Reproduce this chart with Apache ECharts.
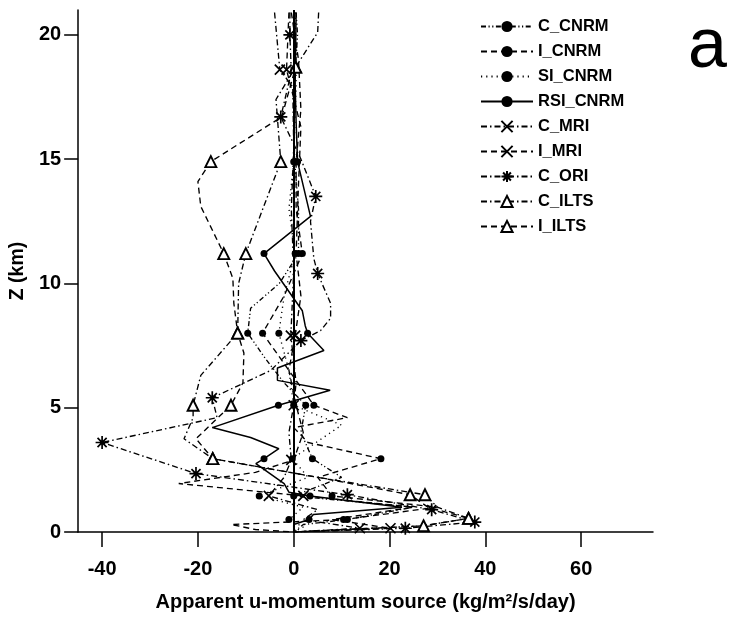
<!DOCTYPE html>
<html>
<head>
<meta charset="utf-8">
<script src="https://cdn.jsdelivr.net/npm/echarts@6/dist/echarts.min.js"></script>
<style>
  html, body { margin: 0; padding: 0; background: #fff; }
  #chart { width: 730px; height: 617px; }
</style>
</head>
<body>
<div id="chart"></div>
<script>
// Vertical profiles of the apparent u-momentum source (kg/m2/s/day) against height Z (km)

// ---- C_CNRM ----
const zC_CNRM = [20.9, 20.0, 18.5, 17.0, 14.9, 13.0, 11.2, 10.0, 9.0, 8.0, 7.0, 6.0, 5.1, 4.0, 2.95, 2.2, 1.45, 1.0, 0.5, 0.3, 0];
const uC_CNRM = [0.5, 0.8, 0.3, 0.0, 0.2, 1.0, 1.0, -3.0, -9.0, -9.6, -6.0, -2.0, 2.5, 1.5, 3.9, 10.0, 0.0, 25.0, 11.2, 2.0, 0];
const mC_CNRM = [14.9, 11.2, 8.0, 5.1, 2.95, 1.45, 0.5];

// ---- I_CNRM ----
const zI_CNRM = [20.9, 19.0, 17.0, 14.9, 13.0, 11.2, 9.5, 8.0, 6.5, 5.1, 4.6, 4.2, 3.6, 2.95, 2.2, 1.45, 1.0, 0.5, 0.3, 0.1, 0];
const uI_CNRM = [-0.5, 1.0, 1.5, 0.5, 0.5, 1.8, -2.0, -6.5, -1.0, 4.2, 11.2, 0.0, 3.0, 18.2, 5.0, 8.0, 30.0, 10.4, -13.0, -8.0, 0];
const mI_CNRM = [14.9, 11.2, 8.0, 5.1, 2.95, 1.45, 0.5];

// ---- SI_CNRM ----
const zSI_CNRM = [20.9, 18.0, 14.9, 13.0, 11.2, 9.5, 8.0, 6.5, 5.1, 4.3, 2.95, 2.2, 1.45, 1.0, 0.5, 0.2, 0];
const uSI_CNRM = [0.3, 0.5, 0.0, -1.0, 0.3, -2.0, -3.1, -1.0, 0.0, 10.0, -0.3, 3.0, -7.2, 2.0, -1.0, 2.0, 0];
const mSI_CNRM = [14.9, 11.2, 8.0, 5.1, 2.95, 1.45, 0.5];

// ---- RSI_CNRM ----
const zRSI_CNRM = [20.9, 18.0, 16.5, 14.9, 12.7, 11.2, 10.5, 8.9, 8.3, 8.0, 7.3, 6.6, 6.1, 5.7, 5.1, 4.2, 3.8, 3.35, 2.95, 2.75, 1.95, 1.6, 1.45, 1.0, 0.7, 0.5, 0.3, 0];
const uRSI_CNRM = [0.5, 0.3, 0.5, 0.8, 3.5, -6.2, -4.0, 1.8, 2.4, 2.9, 6.3, -3.4, -3.4, 7.6, -3.2, -17.0, -9.0, -3.1, -6.2, -7.9, -2.0, -1.0, 3.4, 22.6, 4.1, 3.2, 0.0, 0];
const mRSI_CNRM = [14.9, 11.2, 8.0, 5.1, 2.95, 1.45, 0.5];

// ---- C_MRI ----
const zC_MRI = [20.9, 18.6, 17.9, 15.5, 13.0, 10.5, 7.9, 6.0, 5.1, 4.0, 2.9, 2.2, 1.45, 0.9, 0.5, 0.15, 0];
const uC_MRI = [-4.0, -2.9, -0.2, 0.0, -0.5, 0.0, -0.6, 0.5, 0.0, -1.0, -0.5, -2.0, -5.2, 5.0, 2.0, 13.8, 0];
const mC_MRI = [18.6, 7.9, 5.1, 2.9, 1.45, 0.15];

// ---- I_MRI ----
const zI_MRI = [20.9, 18.6, 16.3, 14.0, 11.2, 9.5, 7.9, 6.5, 5.1, 4.0, 2.9, 2.4, 1.95, 1.45, 1.0, 0.5, 0.15, 0];
const uI_MRI = [-1.0, -1.5, 1.5, 1.0, 0.5, 1.5, 0.3, -1.0, 0.5, 2.0, 0.0, -8.0, -24.0, 2.0, 25.0, 8.0, 20.2, 0];
const mI_MRI = [18.6, 7.9, 1.45, 0.15];

// ---- C_ORI ----
const zC_ORI = [20.9, 20.0, 18.5, 16.7, 15.0, 13.5, 12.5, 11.0, 10.4, 9.2, 8.6, 8.1, 7.7, 6.5, 5.4, 4.6, 3.6, 2.35, 1.5, 0.9, 0.4, 0.15, 0];
const uC_ORI = [-0.8, -0.8, -0.5, -2.7, 1.5, 4.6, 3.5, 4.2, 5.0, 7.7, 7.7, 5.6, 1.5, -4.8, -17.0, -16.0, -40.0, -20.4, 11.2, 28.8, 37.8, 23.3, 0];
const mC_ORI = [20.0, 16.7, 13.5, 10.4, 7.7, 5.4, 3.6, 2.35, 1.5, 0.9, 0.4, 0.15];

// ---- C_ILTS ----
const zC_ILTS = [20.9, 20.1, 18.7, 17.4, 14.9, 11.2, 10.0, 8.0, 6.3, 5.1, 4.6, 3.75, 2.95, 2.2, 1.5, 1.0, 0.55, 0.25, 0];
const uC_ILTS = [5.2, 5.0, 0.4, -3.7, -2.7, -10.0, -11.5, -11.7, -19.4, -21.0, -21.0, -22.9, -16.9, 5.0, 27.4, 30.0, 36.5, 27.1, 0];
const mC_ILTS = [18.7, 14.9, 11.2, 8.0, 5.1, 2.95, 1.5, 0.55, 0.25];

// ---- I_ILTS ----
const zI_ILTS = [20.9, 18.7, 16.7, 14.9, 14.1, 13.1, 11.2, 10.2, 9.2, 8.0, 7.2, 6.0, 5.1, 3.75, 2.95, 2.2, 1.5, 1.0, 0.55, 0.25, 0];
const uI_ILTS = [0.2, 0.4, -2.5, -17.3, -20.0, -19.4, -14.6, -12.7, -12.5, -11.7, -10.4, -10.6, -13.1, -20.4, -16.9, 5.0, 24.3, 28.0, 36.5, 27.1, 0];
const mI_ILTS = [18.7, 14.9, 11.2, 8.0, 5.1, 2.95, 1.5, 0.55];

// Axis ticks
const xTicks = [-40, -20, 0, 20, 40, 60];
const zTicks = [0, 5, 10, 15, 20];

// ---------------------------------------------------------------
const FONT = 'Liberation Sans, Arial, Helvetica, sans-serif';
const INK = '#000';

const DASHED = [6, 4];
const DASHDOT = [6, 3, 1.5, 3];
const DASHDOTDOT = [5, 2.5, 1.2, 2.5, 1.2, 2.5];
const DOTTED = [1.2, 4];

const SYM_X = 'path://M0,0L10,10M10,0L0,10';
const SYM_STAR = 'path://M5,0L5,10M0,5L10,5M1.5,1.5L8.5,8.5M8.5,1.5L1.5,8.5';

const markers = {
  dot:   { symbol: 'circle', symbolSize: 7, itemStyle: { color: INK, borderColor: INK, borderWidth: 0 } },
  cross: { symbol: SYM_X, symbolSize: 10, itemStyle: { color: 'none', borderColor: INK, borderWidth: 1.7 } },
  star:  { symbol: SYM_STAR, symbolSize: 13, itemStyle: { color: 'none', borderColor: INK, borderWidth: 1.7 } },
  tri:   { symbol: 'triangle', symbolSize: 11, itemStyle: { color: '#fff', borderColor: INK, borderWidth: 1.9 } }
};

function profile(name, z, u, marked, dash, marker, width) {
  const data = z.map((zz, i) => {
    const item = { value: [u[i], zz] };
    if (marked.indexOf(zz) < 0) item.symbol = 'none';
    return item;
  });
  return Object.assign({
    name: name,
    type: 'line',
    data: data,
    showSymbol: true,
    showAllSymbol: true,
    clip: true,
    lineStyle: { color: INK, width: width || 1.35, type: dash },
    emphasis: { disabled: true },
    z: 3
  }, JSON.parse(JSON.stringify(markers[marker])));
}

const series = [
  profile('C_CNRM', zC_CNRM, uC_CNRM, mC_CNRM, DASHDOTDOT, 'dot'),
  profile('I_CNRM', zI_CNRM, uI_CNRM, mI_CNRM, DASHED, 'dot'),
  profile('SI_CNRM', zSI_CNRM, uSI_CNRM, mSI_CNRM, DOTTED, 'dot'),
  profile('RSI_CNRM', zRSI_CNRM, uRSI_CNRM, mRSI_CNRM, 'solid', 'dot', 1.5),
  profile('C_MRI', zC_MRI, uC_MRI, mC_MRI, DASHDOT, 'cross'),
  profile('I_MRI', zI_MRI, uI_MRI, mI_MRI, DASHED, 'cross'),
  profile('C_ORI', zC_ORI, uC_ORI, mC_ORI, DASHDOT, 'star'),
  profile('C_ILTS', zC_ILTS, uC_ILTS, mC_ILTS, DASHDOT, 'tri'),
  profile('I_ILTS', zI_ILTS, uI_ILTS, mI_ILTS, DASHED, 'tri')
];

// zero line through the profiles
series[3].markLine = {
  silent: true,
  symbol: 'none',
  label: { show: false },
  lineStyle: { color: INK, width: 2, type: 'solid' },
  data: [{ xAxis: 0 }]
};

const chart = echarts.init(document.getElementById('chart'), null, { renderer: 'canvas' });
chart.setOption({
  animation: false,
  backgroundColor: '#fff',
  textStyle: { fontFamily: FONT, color: INK },
  grid: { left: 77, top: 10, width: 576, height: 527, containLabel: false },
  legend: {
    orient: 'vertical',
    left: 475,
    top: 13,
    itemWidth: 52,
    itemHeight: 14,
    itemGap: 8,
    selectedMode: false,
    textStyle: { fontFamily: FONT, fontSize: 16.5, fontWeight: 'bold', color: INK },
    data: series.map(s => s.name)
  },
  xAxis: {
    type: 'value',
    min: -45,
    max: 75,
    splitLine: { show: false },
    axisLine: { show: true, onZero: false, lineStyle: { color: INK, width: 1.5 } },
    axisTick: { show: true, inside: false, length: 15, customValues: xTicks, lineStyle: { color: INK, width: 1.5 } },
    axisLabel: { customValues: xTicks, margin: 27, fontSize: 20, fontWeight: 'bold', color: INK, fontFamily: FONT },
    name: 'Apparent u-momentum source (kg/m\u00b2/s/day)',
    nameLocation: 'middle',
    nameGap: 60,
    nameTextStyle: { fontSize: 20, fontWeight: 'bold', color: INK, fontFamily: FONT }
  },
  yAxis: {
    type: 'value',
    min: 0,
    max: 21,
    splitLine: { show: false },
    axisLine: { show: true, onZero: false, lineStyle: { color: INK, width: 1.5 } },
    axisTick: { show: true, inside: false, length: 14, customValues: zTicks, lineStyle: { color: INK, width: 1.5 } },
    axisLabel: { customValues: zTicks, margin: 17, fontSize: 20, fontWeight: 'bold', color: INK, fontFamily: FONT },
    name: 'Z (km)',
    nameLocation: 'middle',
    nameGap: 37,
    nameRotate: 90,
    nameTextStyle: { fontSize: 19.5, fontWeight: 'bold', color: INK, fontFamily: FONT }
  },
  graphic: [{
    type: 'text',
    left: 688,
    top: 13,
    style: { text: 'a', fontSize: 70, fontFamily: FONT, fill: INK }
  }],
  series: series
});
</script>
</body>
</html>
